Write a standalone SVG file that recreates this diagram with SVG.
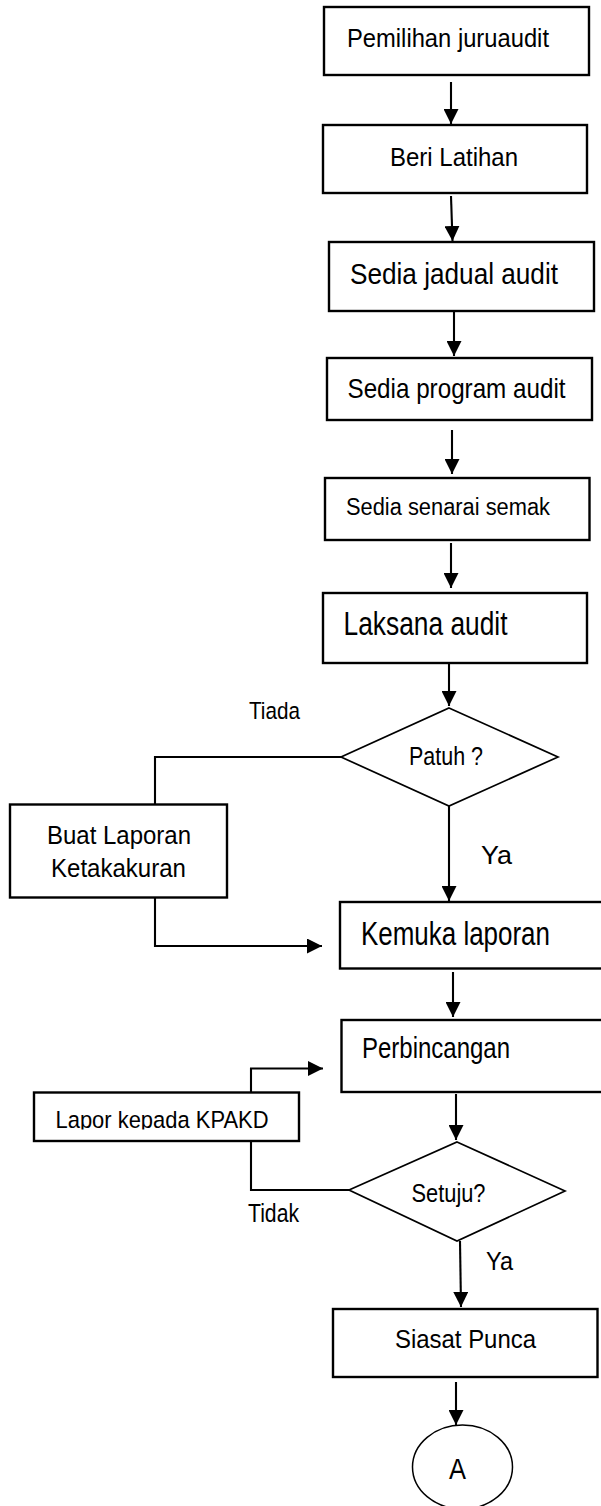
<svg xmlns="http://www.w3.org/2000/svg" width="601" height="1506" viewBox="0 0 601 1506">
<style>
.box{fill:#fff;stroke:#000;stroke-width:2.4}
.dia{fill:#fff;stroke:#000;stroke-width:1.7}
.ln{fill:none;stroke:#000;stroke-width:2.1}
.ar{fill:none;stroke:#000;stroke-width:2.1;marker-end:url(#ah)}
text{font-family:"Liberation Sans",Arial,sans-serif;fill:#000}
</style>
<defs>
<marker id="ah" markerUnits="userSpaceOnUse" markerWidth="15" markerHeight="15" refX="15" refY="7.5" orient="auto" viewBox="0 0 15 15">
<path d="M0,0 L15,7.5 L0,15 Z" fill="#000"/>
</marker>
<clipPath id="clipLapor"><rect x="35" y="1093" width="263" height="36.5"/></clipPath>
</defs>
<rect width="601" height="1506" fill="#fff"/>

<g id="connectors">
<line class="ar" x1="451" y1="82" x2="451" y2="124"/>
<line class="ar" x1="451" y1="196" x2="452.5" y2="241"/>
<line class="ar" x1="454" y1="312" x2="454" y2="356"/>
<line class="ar" x1="452" y1="430" x2="452" y2="474"/>
<line class="ar" x1="451" y1="543" x2="451" y2="588"/>
<line class="ar" x1="449" y1="664" x2="449" y2="706"/>
<polyline class="ln" points="341,757 155,757 155,804"/>
<polyline class="ar" points="155,898 155,946 322,946"/>
<line class="ar" x1="449" y1="806" x2="449" y2="901"/>
<line class="ar" x1="453" y1="972" x2="453" y2="1017"/>
<line class="ar" x1="456" y1="1094" x2="456" y2="1140"/>
<polyline class="ln" points="349,1190 251,1190 251,1141"/>
<polyline class="ar" points="251,1092 251,1068.5 323,1068.5"/>
<line class="ar" x1="460" y1="1241" x2="461" y2="1307"/>
<line class="ar" x1="456" y1="1382" x2="456" y2="1425"/>
</g>

<g id="n1">
<rect class="box" x="324" y="7" width="265" height="68"/>
<text x="347" y="47" font-size="26" textLength="202" lengthAdjust="spacingAndGlyphs">Pemilihan juruaudit</text>
</g>
<g id="n2">
<rect class="box" x="323" y="125" width="264" height="68"/>
<text x="390" y="166" font-size="26" textLength="128" lengthAdjust="spacingAndGlyphs">Beri Latihan</text>
</g>
<g id="n3">
<rect class="box" x="329" y="242" width="265" height="69"/>
<text x="350" y="283.5" font-size="29" textLength="208" lengthAdjust="spacingAndGlyphs">Sedia jadual audit</text>
</g>
<g id="n4">
<rect class="box" x="327" y="358" width="265" height="62"/>
<text x="347.5" y="398" font-size="28.5" textLength="218" lengthAdjust="spacingAndGlyphs">Sedia program audit</text>
</g>
<g id="n5">
<rect class="box" x="325" y="478" width="264.5" height="62"/>
<text x="346" y="514.5" font-size="23.5" textLength="204" lengthAdjust="spacingAndGlyphs">Sedia senarai semak</text>
</g>
<g id="n6">
<rect class="box" x="323" y="593" width="264" height="70"/>
<text x="343.5" y="635" font-size="33" textLength="164" lengthAdjust="spacingAndGlyphs">Laksana audit</text>
</g>
<g id="d1">
<polygon class="dia" points="449,708 558,757 449,806 341,757"/>
<text x="409" y="765" font-size="25.5" textLength="74" lengthAdjust="spacingAndGlyphs">Patuh ?</text>
</g>
<g id="lblTiada">
<text x="249" y="718.5" font-size="24.5" textLength="51" lengthAdjust="spacingAndGlyphs">Tiada</text>
</g>
<g id="n7">
<rect class="box" x="10" y="804.5" width="217" height="93"/>
<text x="47" y="843.5" font-size="26.5" textLength="144" lengthAdjust="spacingAndGlyphs">Buat Laporan</text>
<text x="51" y="877" font-size="26.5" textLength="135" lengthAdjust="spacingAndGlyphs">Ketakakuran</text>
</g>
<g id="lblYa1">
<text x="481" y="863.5" font-size="25.5" textLength="31" lengthAdjust="spacingAndGlyphs">Ya</text>
</g>
<g id="n8">
<rect class="box" x="340" y="902" width="270" height="66.5"/>
<text x="361" y="944.5" font-size="32.5" textLength="189" lengthAdjust="spacingAndGlyphs">Kemuka laporan</text>
</g>
<g id="n9">
<rect class="box" x="341.5" y="1020" width="270" height="72"/>
<text x="362" y="1058" font-size="29" textLength="148" lengthAdjust="spacingAndGlyphs">Perbincangan</text>
</g>
<g id="n10">
<rect class="box" x="34" y="1092.5" width="265" height="48.5"/>
<text x="55.5" y="1128" font-size="24.5" textLength="213" lengthAdjust="spacingAndGlyphs" clip-path="url(#clipLapor)">Lapor kepada KPAKD</text>
</g>
<g id="d2">
<polygon class="dia" points="457,1142 565,1191 457,1241 349,1190"/>
<text x="411.5" y="1201.5" font-size="26.5" textLength="74" lengthAdjust="spacingAndGlyphs">Setuju?</text>
</g>
<g id="lblTidak">
<text x="248" y="1222" font-size="25.5" textLength="51" lengthAdjust="spacingAndGlyphs">Tidak</text>
</g>
<g id="lblYa2">
<text x="486" y="1270" font-size="25.5" textLength="27" lengthAdjust="spacingAndGlyphs">Ya</text>
</g>
<g id="n11">
<rect class="box" x="333" y="1309" width="264.5" height="68"/>
<text x="395" y="1347.5" font-size="26.5" textLength="141" lengthAdjust="spacingAndGlyphs">Siasat Punca</text>
</g>
<g id="c1">
<ellipse cx="462.5" cy="1467" rx="50" ry="42" fill="#fff" stroke="#000" stroke-width="1.5"/>
<text x="449" y="1478.5" font-size="29" textLength="17" lengthAdjust="spacingAndGlyphs">A</text>
</g>
</svg>
